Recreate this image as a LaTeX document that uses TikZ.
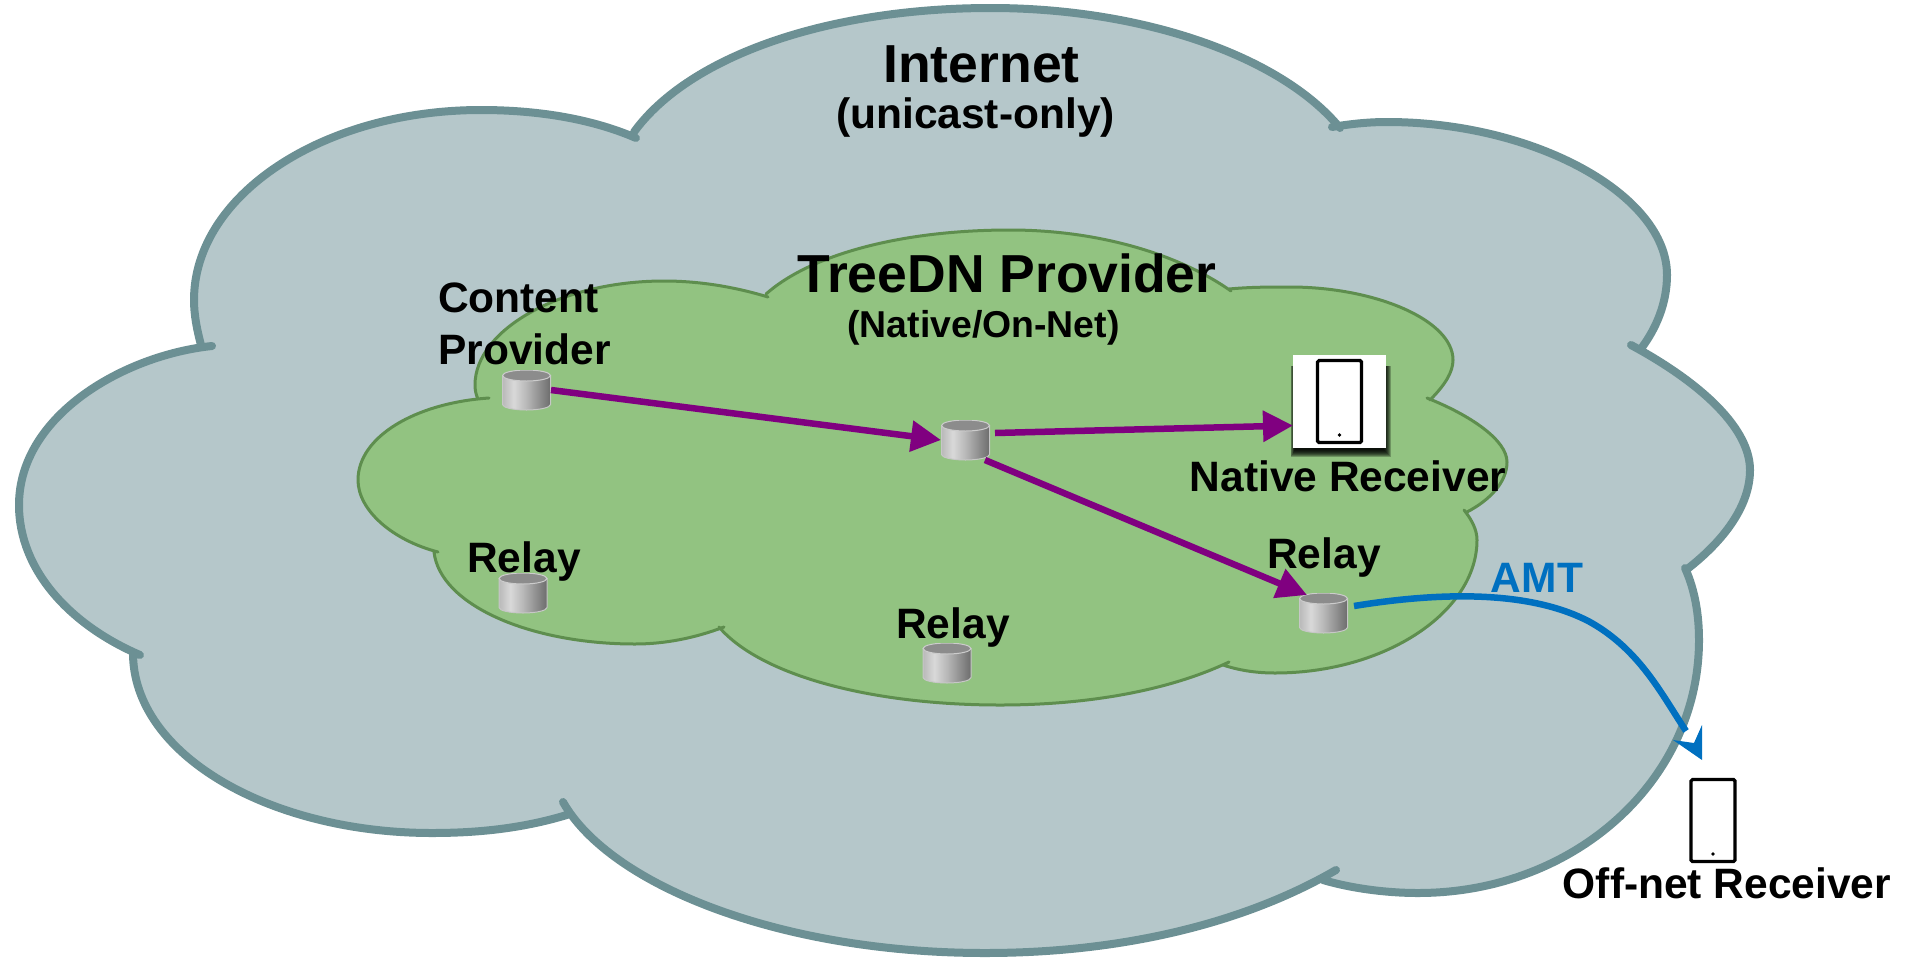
\documentclass[tikz,border=0pt]{standalone}
\usepackage{fontspec}
\setmainfont{Liberation Sans}
\usetikzlibrary{arrows.meta}
\definecolor{cloudfill}{HTML}{B5C7CA}
\definecolor{cloudline}{HTML}{6C9094}
\definecolor{greenfill}{HTML}{92C381}
\definecolor{greenline}{HTML}{5E8E4E}
\definecolor{flowpurple}{HTML}{800080}
\definecolor{amtblue}{HTML}{0070C0}
\pgfdeclarehorizontalshading{cylshade}{100bp}{rgb(0bp)=(.72,.72,.72); rgb(25bp)=(.72,.72,.72); rgb(37bp)=(.85,.85,.85); rgb(50bp)=(.72,.72,.72); rgb(75bp)=(.42,.42,.42); rgb(100bp)=(.42,.42,.42)}
\newcommand{\outerpath}[1]{%
(636,138) .. controls (590,118) and (535,110) .. (481,110) .. controls (323,110) and (194,195) .. (194,300) .. controls (194,315) and (197,330) .. (201,345) #1
(212,346) .. controls (125,355) and (19,415) .. (19,505) .. controls (19,570) and (70,625) .. (140,655) #1
(133,653) .. controls (133,755) and (270,833) .. (432,833) .. controls (480,833) and (525,828) .. (570,814) #1
(563,802) .. controls (610,885) and (780,953) .. (985,953) .. controls (1130,953) and (1250,920) .. (1336,870) #1
(1323,880) .. controls (1350,888) and (1385,893) .. (1418,893) .. controls (1575,893) and (1699,780) .. (1699,640) .. controls (1699,615) and (1695,590) .. (1685,568) #1
(1686,570) .. controls (1725,540) and (1750,505) .. (1750,470) .. controls (1750,430) and (1705,385) .. (1631,345) #1
(1640,350) .. controls (1657,328) and (1667,302) .. (1667,275) .. controls (1667,195) and (1535,122) .. (1387,122) .. controls (1368,122) and (1350,124) .. (1332,127) #1
(1340,128) .. controls (1280,55) and (1140,8) .. (991,8) .. controls (830,8) and (690,55) .. (634,132)}
\newcommand{\greenpath}[1]{%
(768,297) .. controls (735,287) and (700,281) .. (664,281) .. controls (560,281) and (475,330) .. (475,385) .. controls (475,390) and (476,395) .. (478,399) #1
(489,398) .. controls (415,403) and (358,437) .. (358,480) .. controls (358,510) and (392,540) .. (438,552) #1
(434,552) .. controls (440,605) and (530,644) .. (635,644) .. controls (665,644) and (695,638) .. (724,627) #1
(719,627) .. controls (760,675) and (870,705) .. (1000,705) .. controls (1090,705) and (1170,690) .. (1229,662) #1
(1223,665) .. controls (1238,670) and (1255,673) .. (1275,673) .. controls (1385,673) and (1477,612) .. (1477,540) .. controls (1477,530) and (1472,520) .. (1464,510) #1
(1467,512) .. controls (1490,500) and (1507,482) .. (1507,462) .. controls (1507,440) and (1470,415) .. (1427,398) #1
(1430,400) .. controls (1445,385) and (1453,372) .. (1453,360) .. controls (1453,320) and (1375,287) .. (1290,287) .. controls (1270,287) and (1250,287) .. (1229,289) #1
(1231,291) .. controls (1180,255) and (1100,230) .. (1010,230) .. controls (900,230) and (810,255) .. (766,294)}
\tikzset{
  outercloudline/.style={draw=cloudline,line width=8pt,line cap=round,line join=round},
  greencloudline/.style={draw=greenline,line width=3pt,line cap=round,line join=round},
  label/.style={anchor=base,inner sep=0pt,font=\bfseries\fontsize{42.5}{50}\selectfont,text=black},
  title/.style={anchor=base,inner sep=0pt,font=\bfseries\fontsize{53.5}{60}\selectfont,text=black},
  flowarrow/.style={draw=flowpurple,line width=6.5pt,-{Triangle[length=30pt,width=30pt]}},
  amtline/.style={draw=amtblue,line width=6.5pt},
  cyl/.style={minimum width=49pt,minimum height=40pt,inner sep=0pt,outer sep=0pt,
    path picture={
      \path[shading=cylshade,draw=black!22,line width=1pt] (-24pt,-14.5) -- (-24pt,14.5)
        arc[start angle=180,end angle=360,x radius=24pt,y radius=5.5pt] -- (24pt,-14.5) -- cycle;
      \path[fill=black!45,draw=black!20,line width=1pt] (0,-14.5) ellipse [x radius=24pt,y radius=5.5pt];
    }},
  phonebody/.style={draw=black,fill=white,line width=3.2pt,rounded corners=1.5pt,minimum width=44pt,minimum height=82pt,inner sep=0pt,outer sep=0pt,
    path picture={\fill[black] (0,33.5) circle[radius=1.8pt];}},
  whitebox/.style={fill=white,minimum width=93pt,minimum height=93pt,inner sep=0pt,outer sep=0pt},
}
\begin{document}
\begin{tikzpicture}[x=1pt,y=-1pt]
\useasboundingbox (0,0) rectangle (1909,959);
% clouds
\fill[cloudfill] \outerpath{--} -- cycle;
\draw[outercloudline] \outerpath{};
\fill[greenfill] \greenpath{--} -- cycle;
\draw[greencloudline] \greenpath{};
% cloud titles
\node[title] (tInternet) at (981.5,82) {Internet};
\node[label] (tUnicast) at (975.5,128) {(unicast-only)};
\node[title] (tTree) at (1007,292) {TreeDN Provider};
\node[label,font=\bfseries\fontsize{37.4}{44}\selectfont] (tNative) at (983.5,337) {(Native/On-Net)};
% labels
\node[label,anchor=base west] (lContent) at (438,312) {Content};
\node[label,anchor=base west] (lProvider) at (438,364) {Provider};
\node[label] (lRelayL) at (524,572) {Relay};
\node[label] (lRelayM) at (953,638) {Relay};
\node[label] (lRelayR) at (1324,568) {Relay};
\node[label] (lNativeRx) at (1348,491) {Native Receiver};
\node[label] (lOffnet) at (1727,898) {Off-net Receiver};
\node[label,text=amtblue] (lAMT) at (1537,592) {AMT};
% cylinders
\node[cyl] (cp) at (526.5,390) {};
\node[cyl] (mid) at (965.5,440) {};
\node[cyl] (relayL) at (523,593) {};
\node[cyl] (relayM) at (947,663) {};
\node[cyl] (relayR) at (1323.5,613) {};
% native receiver with its soft shadow
\foreach \g in {7,6,5,4,3,2,1,0}
  \fill[black,opacity=.25] (1295-\g*.6,366) rectangle (1384+\g*1.0,450+\g*1.0);
\node[whitebox] (nrbox) at (1339.5,401.5) {};
\node[phonebody] (nrphone) at (1339.5,401.5) {};
% off-net receiver
\node[phonebody] (offphone) at (1713,820.5) {};
% connectors
\draw[flowarrow] (cp.east) -- (mid.west);
\draw[flowarrow] ([xshift=5pt,yshift=7pt]mid.east) -- ([yshift=-24pt]nrbox.west);
\draw[flowarrow] ([xshift=-5pt]mid.south east) -- ([xshift=8pt,yshift=-2pt]relayR.north west);
\coordinate (amtend) at (1686,731);
\draw[amtline] ([xshift=6pt,yshift=7pt]relayR.east) .. controls (1440,592) and (1530,590) .. (1590,622) .. controls (1640,650) and (1662,695) .. (amtend);
\fill[amtblue] (1702,760) -- (1702,725) -- (1694,743) -- (1673,740) -- cycle;
\end{tikzpicture}
\end{document}
